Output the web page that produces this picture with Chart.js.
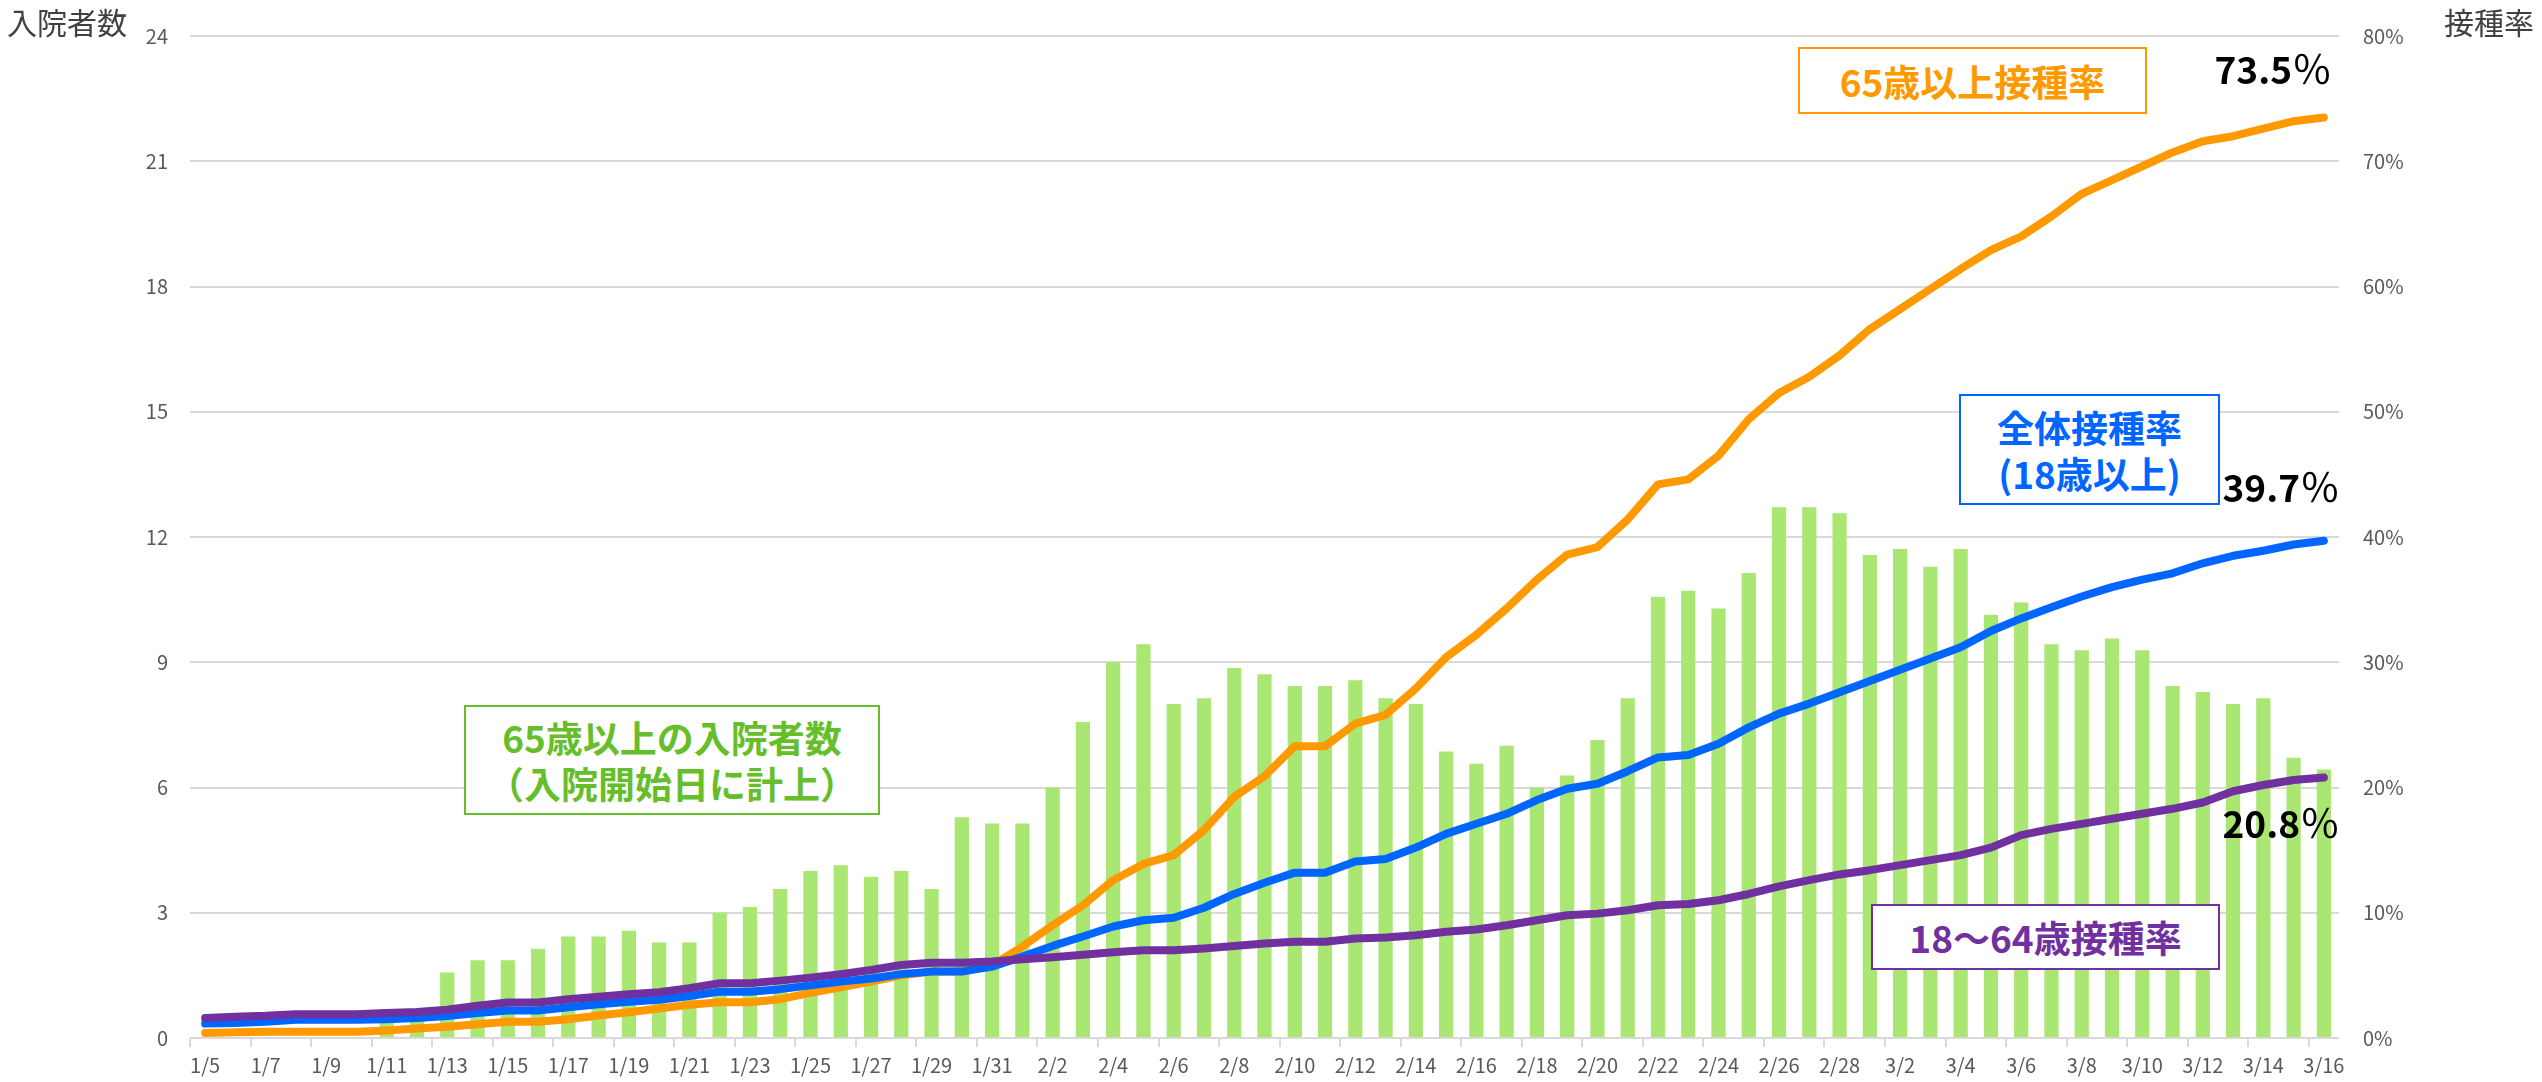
<!DOCTYPE html>
<html lang="ja">
<head>
<meta charset="UTF-8">
<title>65歳以上の入院者数と接種率</title>
<script src="https://cdn.jsdelivr.net/npm/chart.js@4.4.0/dist/chart.umd.min.js"></script>
<style>
body { margin: 0; background: #fff; font-family: "Noto Sans CJK JP", sans-serif; }
#wrap { position: relative; width: 2542px; height: 1082px; }
.axis-title { position: absolute; font-size: 30px; color: #404040; line-height: 36px; }
.box {
  position: absolute; box-sizing: border-box; background: #fff;
  border: 2px solid; font-weight: bold; font-size: 37px; line-height: 46px;
  display: flex; flex-direction: column; justify-content: center; align-items: center;
}
.pct { position: absolute; font-weight: bold; font-size: 37px; line-height: 40px; color: #000; text-align: right; width: 140px; }
.pct span { font-weight: 400; font-size: 40px; }
</style>
</head>
<body>
<div id="wrap">
  <canvas id="chart"></canvas>

  <div class="axis-title" style="left:7px; top:3px;">入院者数</div>
  <div class="axis-title" style="left:2444px; top:3px;">接種率</div>

  <div class="box" style="left:1798px; top:47px; width:349px; height:67px; border-color:#ff9900; color:#ff9900;">65歳以上接種率</div>
  <div class="box" style="left:1959px; top:394px; width:261px; height:111px; border-color:#0066ff; color:#0066ff;">
    <span>全体接種率</span><span>(18歳以上)</span>
  </div>
  <div class="box" style="left:1871px; top:904px; width:349px; height:66px; border-color:#7030a0; color:#7030a0;">18〜64歳接種率</div>
  <div class="box" style="left:464px; top:705px; width:416px; height:110px; border-color:#66bf2a; color:#66bf2a;">
    <span>65歳以上の入院者数</span><span>（入院開始日に計上）</span>
  </div>

  <div class="pct" style="left:2192px; top:47px;">73.5<span>％</span></div>
  <div class="pct" style="left:2200px; top:465px;">39.7<span>％</span></div>
  <div class="pct" style="left:2200px; top:801px;">20.8<span>％</span></div>
</div>

<script>
// dates 1/5 .. 3/16
const days = [
  '1/5','1/6','1/7','1/8','1/9','1/10','1/11','1/12','1/13','1/14','1/15','1/16','1/17','1/18','1/19','1/20',
  '1/21','1/22','1/23','1/24','1/25','1/26','1/27','1/28','1/29','1/30','1/31',
  '2/1','2/2','2/3','2/4','2/5','2/6','2/7','2/8','2/9','2/10','2/11','2/12','2/13','2/14','2/15','2/16',
  '2/17','2/18','2/19','2/20','2/21','2/22','2/23','2/24','2/25','2/26','2/27','2/28',
  '3/1','3/2','3/3','3/4','3/5','3/6','3/7','3/8','3/9','3/10','3/11','3/12','3/13','3/14','3/15','3/16'
];

// 65歳以上の入院者数 (7日平均)
const hospitalized = [
  0,0,0,0,0,0,0.43,0.43,1.57,1.86,1.86,2.14,2.43,2.43,2.57,2.29,
  2.29,3.00,3.14,3.57,4.00,4.14,3.86,4.00,3.57,5.29,5.14,
  5.14,6.00,7.57,9.00,9.43,8.00,8.14,8.86,8.71,8.43,8.43,8.57,8.14,8.00,6.86,6.57,
  7.00,6.00,6.29,7.14,8.14,10.57,10.71,10.29,11.14,12.71,12.71,12.57,
  11.57,11.71,11.29,11.71,10.14,10.43,9.43,9.29,9.57,9.29,8.43,8.29,8.00,8.14,6.71,6.43
];

// 接種率 (%)
const rate65 = [
  0.4,0.45,0.5,0.5,0.5,0.5,0.6,0.75,0.9,1.1,1.3,1.3,1.5,1.8,2.05,2.35,
  2.65,2.85,2.85,3.1,3.6,4.05,4.5,5.0,5.3,5.3,5.8,
  7.3,9.0,10.6,12.6,13.9,14.6,16.6,19.25,20.9,23.3,23.3,25.1,25.8,27.9,30.4,32.2,
  34.3,36.6,38.6,39.2,41.4,44.2,44.6,46.5,49.4,51.5,52.8,54.5,
  56.6,58.2,59.8,61.4,62.9,64.0,65.6,67.4,68.5,69.6,70.7,71.6,72.0,72.6,73.2,73.5
];
const rateAll = [
  1.15,1.2,1.3,1.45,1.45,1.45,1.5,1.6,1.75,2.0,2.2,2.2,2.45,2.7,2.9,3.05,
  3.35,3.7,3.7,3.9,4.2,4.5,4.75,5.1,5.3,5.3,5.7,
  6.5,7.35,8.1,8.9,9.4,9.6,10.4,11.5,12.4,13.2,13.2,14.1,14.3,15.2,16.3,17.1,
  17.9,19.0,19.9,20.3,21.3,22.4,22.6,23.5,24.8,25.9,26.7,27.6,
  28.5,29.4,30.3,31.2,32.5,33.5,34.4,35.25,36.0,36.6,37.1,37.9,38.5,38.9,39.4,39.7
];
const rate1864 = [
  1.6,1.7,1.77,1.9,1.9,1.9,2.0,2.07,2.25,2.57,2.83,2.83,3.1,3.3,3.5,3.66,
  3.97,4.37,4.37,4.58,4.82,5.1,5.43,5.83,6.0,6.0,6.1,
  6.28,6.45,6.65,6.85,7.0,7.0,7.15,7.35,7.55,7.68,7.68,7.95,8.03,8.2,8.48,8.66,
  9.0,9.4,9.8,9.93,10.2,10.6,10.7,11.0,11.5,12.1,12.6,13.06,
  13.4,13.8,14.2,14.6,15.2,16.2,16.7,17.1,17.5,17.9,18.3,18.8,19.7,20.2,20.6,20.8
];

const font = 'Noto Sans CJK JP';
const tickColor = '#595959';
const gridColor = '#d9d9d9';

function lineSet(data, color, order) {
  return {
    type: 'line', data: data, yAxisID: 'y1', order: order,
    borderColor: color, borderWidth: 8, pointRadius: 0,
    borderCapStyle: 'round', borderJoinStyle: 'round', tension: 0
  };
}

new Chart(document.getElementById('chart'), {
  data: {
    labels: days,
    datasets: [
      lineSet(rate1864, '#7030a0', 1),
      lineSet(rateAll, '#0066ff', 2),
      lineSet(rate65, '#ff9900', 3),
      {
        type: 'bar', data: hospitalized, yAxisID: 'y', order: 4,
        backgroundColor: '#a9e672', categoryPercentage: 1, barPercentage: 0.47
      }
    ]
  },
  options: {
    responsive: true, maintainAspectRatio: false, animation: false,
    layout: { padding: { left: 0, right: 0, top: 26, bottom: 0 } },
    plugins: { legend: { display: false }, tooltip: { enabled: false } },
    scales: {
      x: {
        border: { display: false },
        grid: {
          drawOnChartArea: false, drawTicks: true, tickLength: 9, lineWidth: 2,
          tickColor: ctx => ctx.index % 2 === 0 ? gridColor : 'rgba(0,0,0,0)'
        },
        ticks: {
          autoSkip: false, maxRotation: 0, padding: 6, color: tickColor,
          font: { family: font, size: 20 },
          callback: (v, i) => i % 2 === 0 ? days[i] : ''
        },
        afterFit: s => { s.height = 44; }
      },
      y: {
        position: 'left', min: 0, max: 24,
        border: { display: false },
        grid: { color: gridColor, lineWidth: 2, drawTicks: false },
        ticks: { stepSize: 3, padding: 22, color: tickColor, font: { family: font, size: 20 } },
        afterFit: s => { s.width = 190; }
      },
      y1: {
        position: 'right', min: 0, max: 80,
        border: { display: false },
        grid: { drawOnChartArea: false, drawTicks: false },
        ticks: { stepSize: 10, padding: 24, color: tickColor, font: { family: font, size: 20 },
          callback: v => v + '%' },
        afterFit: s => { s.width = 203; }
      }
    }
  }
});
</script>
</body>
</html>
